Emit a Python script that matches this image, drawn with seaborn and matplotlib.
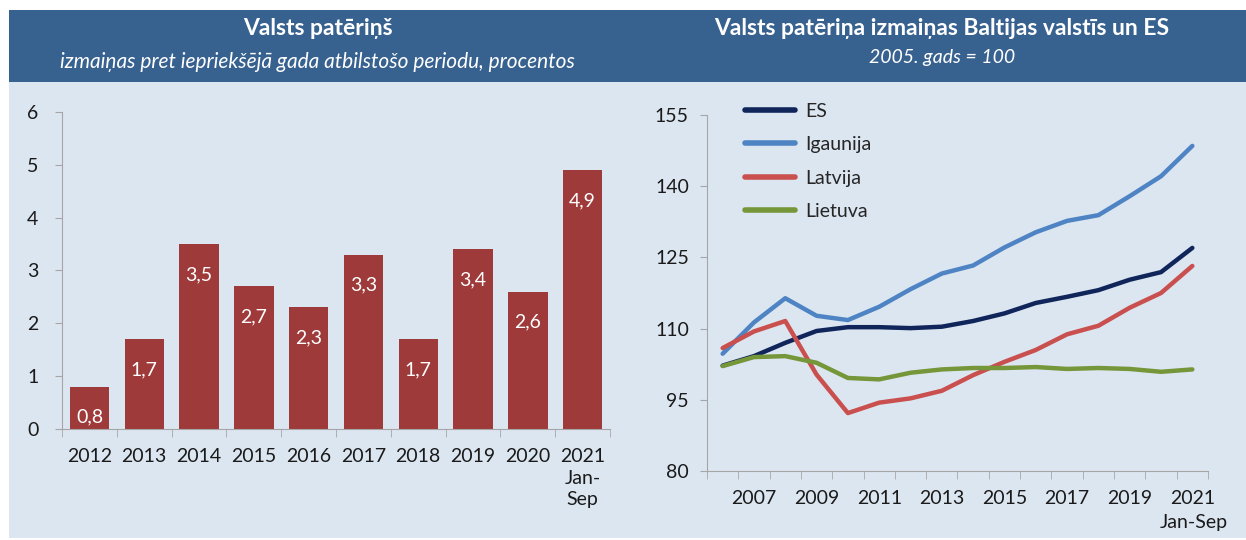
import numpy as np
import pandas as pd
import matplotlib
matplotlib.use("Agg")
import matplotlib.pyplot as plt
from matplotlib.patches import Rectangle
import seaborn as sns

# left chart: annual change, %
bar_years = ["2012", "2013", "2014", "2015", "2016", "2017", "2018", "2019", "2020", "2021\nJan-\nSep"]
bar_values = [0.8, 1.7, 3.5, 2.7, 2.3, 3.3, 1.7, 3.4, 2.6, 4.9]

# right chart: index 2005 = 100
line_years = list(range(2006, 2022))
es = [102.2, 104.2, 107.0, 109.5, 110.3, 110.3, 110.1, 110.4, 111.6, 113.2,
      115.4, 116.7, 118.1, 120.3, 121.9, 127.0]
igaunija = [104.7, 111.3, 116.4, 112.7, 111.8, 114.6, 118.3, 121.6, 123.3, 127.1,
            130.3, 132.7, 133.9, 137.9, 142.1, 148.5]
latvija = [105.9, 109.4, 111.6, 100.3, 92.2, 94.4, 95.3, 96.9, 100.2, 103.0,
           105.5, 108.8, 110.6, 114.4, 117.5, 123.2]
lietuva = [102.1, 104.0, 104.2, 102.8, 99.6, 99.3, 100.7, 101.4, 101.7, 101.7,
           101.9, 101.5, 101.7, 101.5, 100.9, 101.4]
series_names = ["ES", "Igaunija", "Latvija", "Lietuva"]
series_colors = ["#10255A", "#4F84C4", "#C9504F", "#76963A"]

HEADER = "#37618F"
PANEL = "#DCE6F1"
BAR = "#9E3A3A"
AXIS = "#A6A6A6"
TXT = "#1A1A1A"

sns.set_style("ticks")
plt.rcParams["font.family"] = ["Lato", "DejaVu Sans"]
plt.rcParams["axes.edgecolor"] = AXIS
plt.rcParams["xtick.color"] = AXIS
plt.rcParams["ytick.color"] = AXIS
plt.rcParams["xtick.labelcolor"] = TXT
plt.rcParams["ytick.labelcolor"] = TXT

fig = plt.figure(figsize=(12.46, 5.40), dpi=100, facecolor="white")
fig.patches.append(Rectangle((0.0072, 0.8481), 0.9928, 0.1333, transform=fig.transFigure,
                             facecolor=HEADER, edgecolor="none", zorder=-10))
fig.patches.append(Rectangle((0.0072, 0.004), 0.9928, 0.8441, transform=fig.transFigure,
                             facecolor=PANEL, edgecolor="none", zorder=-10))

fig.text(0.255, 0.948, "Valsts patēriņš", color="white", fontsize=16.5,
         fontweight="bold", ha="center", va="center")
fig.text(0.255, 0.885, "izmaiņas pret iepriekšējā gada atbilstošo periodu, procentos",
         color="white", fontsize=15, style="italic", ha="center", va="center")
fig.text(0.756, 0.948, "Valsts patēriņa izmaiņas Baltijas valstīs un ES", color="white",
         fontsize=16.5, fontweight="bold", ha="center", va="center")
fig.text(0.756, 0.893, "2005. gads = 100", color="white", fontsize=14,
         style="italic", ha="center", va="center")

# ---- left: bars
ax1 = fig.add_axes([0.0498, 0.2056, 0.4398, 0.587])
ax1.set_facecolor("none")
df_bar = pd.DataFrame({"year": bar_years, "value": bar_values})
sns.barplot(data=df_bar, x="year", y="value", color=BAR, saturation=1, width=0.72,
            linewidth=0, ax=ax1)
ax1.bar_label(ax1.containers[0], labels=[f"{v:.1f}".replace(".", ",") for v in bar_values],
              padding=-28, color="white", fontsize=14)
ax1.set_xlim(-0.5, len(bar_years) - 0.5)
ax1.set_ylim(0, 6)
ax1.set_yticks(range(0, 7))
ax1.set_xlabel("")
ax1.set_ylabel("")
ax1.set_xticks(np.arange(-0.5, len(bar_years), 1.0), minor=True)
ax1.tick_params(axis="x", which="major", length=0, labelsize=14, pad=14)
ax1.tick_params(axis="x", which="minor", length=6, direction="out")
ax1.tick_params(axis="y", length=5, labelsize=14, pad=12)
for lbl in ax1.get_xticklabels():
    lbl.set_linespacing(1.3)
sns.despine(ax=ax1)

# ---- right: lines
ax2 = fig.add_axes([0.5674, 0.1278, 0.4021, 0.6592])
ax2.set_facecolor("none")
df_line = pd.DataFrame({
    "year": line_years * 4,
    "value": es + igaunija + latvija + lietuva,
    "series": np.repeat(series_names, len(line_years)),
})
sns.lineplot(data=df_line, x="year", y="value", hue="series", hue_order=series_names,
             palette=series_colors, linewidth=3.2, ax=ax2)
ax2.set_xlim(2005.5, 2021.5)
ax2.set_ylim(80, 155)
ax2.set_yticks([80, 95, 110, 125, 140, 155])
ax2.set_xticks(range(2007, 2022, 2))
ax2.set_xticks(np.arange(2005.5, 2022, 1.0), minor=True)
ax2.set_xlabel("")
ax2.set_ylabel("")
ax2.tick_params(axis="x", which="major", length=0, labelsize=14, pad=14)
ax2.tick_params(axis="x", which="minor", length=6, direction="out")
ax2.tick_params(axis="y", length=5, labelsize=14, pad=8)
ax2.text(2021.05, -0.145, "Jan-Sep", transform=ax2.get_xaxis_transform(),
         ha="center", va="center", fontsize=14, color=TXT)
sns.despine(ax=ax2)
leg = ax2.legend(loc="upper left", bbox_to_anchor=(0.075, 1.035), frameon=False,
                 fontsize=14, handlelength=2.6, handletextpad=0.5, labelspacing=0.85,
                 borderaxespad=0, borderpad=0)
for h in leg.get_lines():
    h.set_linewidth(4)

fig.savefig("out.png", dpi=100, facecolor="white")
